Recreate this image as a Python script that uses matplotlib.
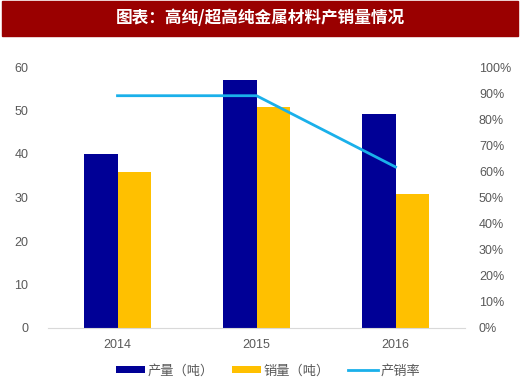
import numpy as np
import matplotlib
matplotlib.use("Agg")
import matplotlib.pyplot as plt
from matplotlib.patches import Rectangle

plt.rcParams['font.family'] = ['Liberation Sans', 'Noto Sans CJK SC', 'DejaVu Sans']

years = ['2014', '2015', '2016']
output = [40.0, 56.9, 49.3]
sales = [35.8, 50.7, 30.8]
ratio = [0.89, 0.89, 0.617]

blue = '#000096'
orange = '#FFC000'
cyan = '#1AB0EA'
grey = '#595959'

fig = plt.figure(figsize=(5.2, 3.86), dpi=100)

# title banner
fig.patches.append(Rectangle((2 / 520, 1 - 36 / 386), 516 / 520, 35 / 386,
                             transform=fig.transFigure, color='#9A0000', zorder=0))
fig.text(0.5, 1 - 18 / 386, '图表：高纯/超高纯金属材料产销量情况', color='white',
         fontsize=12, fontweight='bold', ha='center', va='center',
         family=['Noto Sans CJK SC', 'DejaVu Sans'])

ax = fig.add_axes([48 / 520, 1 - 328 / 386, 417 / 520, 261 / 386])
x = np.arange(len(years))
w = 0.24
b1 = ax.bar(x - w / 2, output, w, color=blue, label='产量（吨）', zorder=2)
b2 = ax.bar(x + w / 2, sales, w, color=orange, label='销量（吨）', zorder=2)
ax.set_xlim(-0.5, 2.5)
ax.set_ylim(0, 60)
ax.set_yticks(range(0, 61, 10))
ax.set_xticks(x)
ax.set_xticklabels(years)

ax2 = ax.twinx()
l1, = ax2.plot(x, ratio, color=cyan, lw=2, label='产销率', zorder=3)
ax2.set_ylim(0, 1)
ax2.set_yticks(np.linspace(0, 1, 11))
ax2.set_yticklabels([f'{int(round(v * 100))}%' for v in np.linspace(0, 1, 11)])

for a in (ax, ax2):
    for s in a.spines.values():
        s.set_visible(False)
    a.tick_params(length=0, colors=grey, labelsize=9)
ax.spines['bottom'].set_visible(True)
ax.spines['bottom'].set_color('#D9D9D9')
ax.tick_params(axis='y', pad=14)
ax.tick_params(axis='x', pad=8)
ax2.tick_params(axis='y', pad=10)

fig.legend(handles=[b1, b2, l1], loc='center', bbox_to_anchor=(0.515, 1 - 371 / 386),
           ncol=3, frameon=False, fontsize=9.5, labelcolor=grey,
           handlelength=2.2, handleheight=0.5, columnspacing=1.4, handletextpad=0.2)

fig.savefig('out.png', dpi=100)
